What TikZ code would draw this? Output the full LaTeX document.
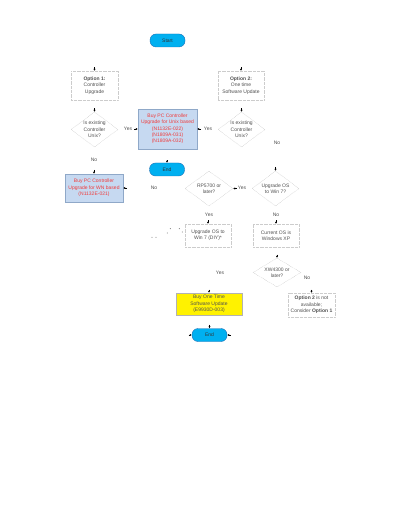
\documentclass[tikz,border=0pt]{standalone}
\usepackage{fontspec}
\setmainfont{Liberation Sans}
\usetikzlibrary{shapes.geometric,arrows.meta}
\definecolor{termfill}{HTML}{00B0F0}
\definecolor{termdraw}{HTML}{1F6FB5}
\definecolor{bluefill}{HTML}{C6D9F1}
\definecolor{bluedraw}{HTML}{8FA8C8}
\definecolor{redtext}{HTML}{F03C3C}
\definecolor{graytext}{HTML}{505050}
\begin{document}
\begin{tikzpicture}[x=1pt,y=-1pt,
  every node/.style={font=\fontsize{5}{6.3}\selectfont, text=graytext, align=center, inner sep=0pt},
  term/.style={rectangle, rounded corners=6pt, fill=termfill, draw=termdraw, line width=0.4pt, minimum width=35pt, minimum height=13pt, text=black!80},
  plainbox/.style={rectangle, draw=gray!40, line width=0.3pt, dash pattern=on 0.5pt off 0.8pt, minimum width=47pt, minimum height=29pt},
  buybox/.style={rectangle, fill=bluefill, draw=bluedraw, line width=0.4pt, text=redtext},
  yelbox/.style={rectangle, fill=yellow, draw=gray!60, line width=0.4pt},
  dec/.style={diamond, aspect=1.34, inner sep=-1pt, draw=gray!60, line width=0.3pt, dash pattern=on 0.5pt off 0.8pt, minimum width=47pt, minimum height=35pt},
  lbl/.style={},
  tip/.style={-{Latex[length=2pt,width=2.2pt]}, line width=0.4pt, black},
  dot/.style={fill=black, circle, inner sep=0pt, minimum size=0.8pt}
]
\useasboundingbox (0,0) rectangle (400,518);

% terminals
\node[term] (start) at (167.5,40.5) {Start};
\node[term] (end1) at (167,169.5) {End};
\node[term] (end2) at (209.5,335) {End};

% options
\node[plainbox] (opt1) at (94.5,85.5) {\textbf{Option 1:}\\Controller\\Upgrade};
\node[plainbox, minimum width=46pt] (opt2) at (241,85.5) {\textbf{Option 2:}\\One time\\Software Update};

% decisions
\node[dec] (d1) at (94.5,129.5) {Is existing\\Controller\\Unix?};
\node[dec] (d2) at (241.5,129.5) {Is existing\\Controller\\Unix?};
\node[dec, minimum width=48pt] (rp) at (209,188.5) {RP5700 or\\later?};
\node[dec] (up) at (275.5,188.5) {Upgrade OS\\to Win 7?};
\node[dec, minimum width=48pt, minimum height=29pt] (xw) at (277,272.5) {XW4300 or\\later?};

% buy boxes
\node[buybox, minimum width=59pt, minimum height=40pt] (unix) at (167.5,129) {Buy PC Controller\\Upgrade for Unix based\\(N1132E-022)\\(N1809A-031)\\(N1809A-032)};
\node[buybox, minimum width=58pt, minimum height=28pt] (wn) at (94,188) {Buy PC Controller\\Upgrade for WN based\\(N1132E-021)};
\node[yelbox, minimum width=66pt, minimum height=22pt] (yel) at (209,304) {Buy One Time\\Software Update\\(E9930D-003)};

% plain boxes
\node[plainbox, minimum width=46pt, minimum height=23pt] (diy) at (208,235.5) {Upgrade OS to\\Win 7 (DIY)*};
\node[plainbox, minimum width=46pt, minimum height=23pt] (xp) at (276,235.5) {Current OS is\\Windows XP};
\node[plainbox, minimum width=47pt, minimum height=24pt] (na) at (311.5,305) {\textbf{Option 2} is not\\available;\\Consider \textbf{Option 1}};

% labels
\node[lbl] (l1) at (128,129) {Yes};
\node[lbl] (l2) at (208,129) {Yes};
\node[lbl] (l3) at (277,143) {No};
\node[lbl] (l4) at (94,160) {No};
\node[lbl] (l5) at (154,188) {No};
\node[lbl] (l6) at (242,188) {Yes};
\node[lbl] (l7) at (209,215) {Yes};
\node[lbl] (l8) at (276,215) {No};
\node[lbl] (l9) at (220,273) {Yes};
\node[lbl] (l10) at (307,278) {No};

% arrow stubs
\coordinate (a1) at (94.5,67.5);
\coordinate (a2) at (241,67.5);
\coordinate (a3) at (94.5,108.5);
\coordinate (a4) at (241.5,108.5);
\coordinate (a5) at (134,129);
\coordinate (a6) at (201,129);
\coordinate (a7) at (94,170);
\coordinate (a8) at (127,188);
\coordinate (a9) at (167,160.5);
\coordinate (a10) at (237,188.5);
\coordinate (a11) at (275.5,167);
\coordinate (a12) at (208,220.5);
\coordinate (a13) at (276,220.5);
\coordinate (a14) at (277,254.5);
\coordinate (a15) at (311.5,289.5);
\coordinate (a16) at (209,289.5);
\coordinate (a17) at (209.5,324.5);
\coordinate (a18) at (188.5,335);
\coordinate (a19) at (230.5,335);

\draw[tip] (a1) -- (opt1.north);
\draw[tip] (a2) -- (opt2.north);
\draw[tip] (a3) -- (d1.north);
\draw[tip] (a4) -- (d2.north);
\draw[tip] (a5) -- (unix.west);
\draw[tip] (a6) -- (unix.east);
\draw[tip] (a7) -- (wn.north);
\draw[tip] (a8) -- (wn.east);
\draw[tip] (a9) -- (end1.north);
\draw[tip] (a10) -- (rp.east);
\draw[tip] (a11) -- (up.north);
\draw[tip] (a12) -- (diy.north);
\draw[tip] (a13) -- (xp.north);
\draw[tip] (a14) -- (xw.north);
\draw[tip] (a15) -- (na.north);
\draw[tip] (a16) -- (yel.north);
\draw[tip] (a17) -- (end2.north);
\draw[tip] (a18) -- (end2.west);
\draw[tip] (a19) -- (end2.east);

% stray dots
\node[dot] (p1) at (152,237.3) {};
\node[dot] (p2) at (156,237.3) {};
\node[dot] (p3) at (167.3,233) {};
\node[dot] (p4) at (170.3,228.7) {};
\node[dot] (p5) at (179.3,228.7) {};
\node[dot] (p6) at (182.3,232) {};
\end{tikzpicture}
\end{document}
